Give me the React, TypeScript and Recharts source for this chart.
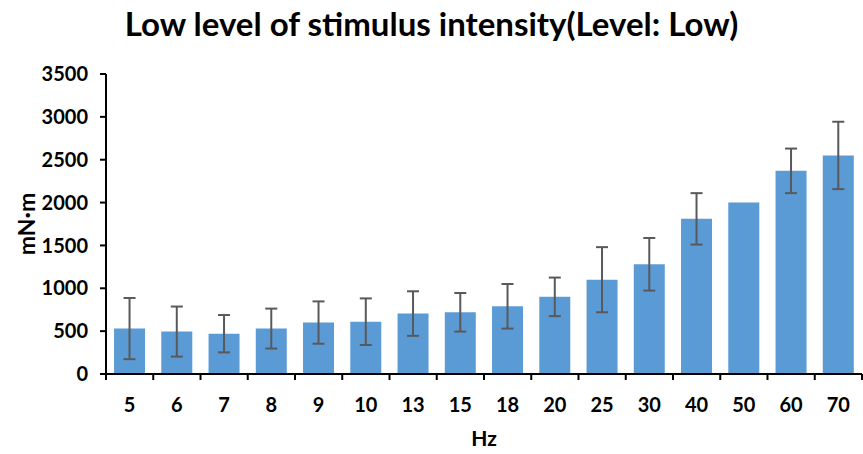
import React from 'react';
import { BarChart, Bar, XAxis, YAxis, ErrorBar, Label } from 'recharts';

const hzLabels = ['5', '6', '7', '8', '9', '10', '13', '15', '18', '20', '25', '30', '40', '50', '60', '70'];
const torqueMeans = [530, 495, 470, 530, 600, 610, 705, 720, 790, 900, 1100, 1280, 1810, 2000, 2370, 2550];
const torqueErrors = [357, 292, 218, 233, 247, 272, 260, 225, 260, 225, 380, 307, 300, null, 260, 393];
const yTicks = [0, 500, 1000, 1500, 2000, 2500, 3000, 3500];

const chartData = hzLabels.map((hz, i) => ({ hz, value: torqueMeans[i], err: torqueErrors[i] }));

const FONT = 'Lato, "Noto Sans", sans-serif';

// category label centred in its band, tick marks on the band edges
const HzTick = (props: any) => {
  const { x, y, payload, index } = props;
  const half = payload.offset ?? 23.6;
  return (
    <g>
      {index === 0 && <line x1={x - half} x2={x - half} y1={y} y2={y + 6} stroke="#000" strokeWidth={2} />}
      <line x1={x + half} x2={x + half} y1={y} y2={y + 6} stroke="#000" strokeWidth={2} />
      <text x={x} y={y + 38} textAnchor="middle" fontFamily={FONT} fontWeight={700} fontSize={20} fill="#000">
        {payload.value}
      </text>
    </g>
  );
};

const App = () => {
  return (
    <div style={{ position: 'absolute', left: 0, top: 0, width: 863, height: 454, background: '#fff' }}>
      <div
        style={{
          position: 'absolute',
          left: 0,
          top: 5,
          width: 863,
          textAlign: 'center',
          fontFamily: FONT,
          fontWeight: 700,
          fontSize: 33,
          lineHeight: '36px',
          color: '#000',
        }}
      >
        Low level of stimulus intensity(Level: Low)
      </div>
      <BarChart
        width={863}
        height={454}
        data={chartData}
        margin={{ top: 74, right: 1, bottom: 0, left: 0 }}
        barCategoryGap="17%"
      >
        <XAxis
          dataKey="hz"
          height={80}
          tickLine={false}
          tickSize={0}
          tickMargin={0}
          axisLine={{ stroke: '#000', strokeWidth: 2 }}
          tick={<HzTick />}
          interval={0}
        >
          <Label value="Hz" position="insideBottom" offset={8} fontFamily={FONT} fontWeight={700} fontSize={21} fill="#000" />
        </XAxis>
        <YAxis
          width={106}
          domain={[0, 3500]}
          ticks={yTicks}
          interval={0}
          tickSize={6}
          tickMargin={12}
          axisLine={{ stroke: '#000', strokeWidth: 2 }}
          tickLine={{ stroke: '#000', strokeWidth: 2 }}
          tick={{ fontFamily: FONT, fontWeight: 700, fontSize: 20, fill: '#000' }}
        >
          <Label
            content={({ viewBox }: any) => {
              const cx = viewBox.x + 26;
              const cy = viewBox.y + viewBox.height / 2;
              return (
                <text
                  x={cx}
                  y={cy}
                  transform={`rotate(-90 ${cx} ${cy})`}
                  textAnchor="middle"
                  dominantBaseline="central"
                  fontFamily={FONT}
                  fontWeight={700}
                  fontSize={23}
                  fill="#000"
                >
                  mN·m
                </text>
              );
            }}
          />
        </YAxis>
        <Bar dataKey="value" fill="#5B9BD5" isAnimationActive={false}>
          <ErrorBar dataKey="err" width={6} stroke="#595959" strokeWidth={2} direction="y" />
        </Bar>
      </BarChart>
    </div>
  );
};

export default App;
